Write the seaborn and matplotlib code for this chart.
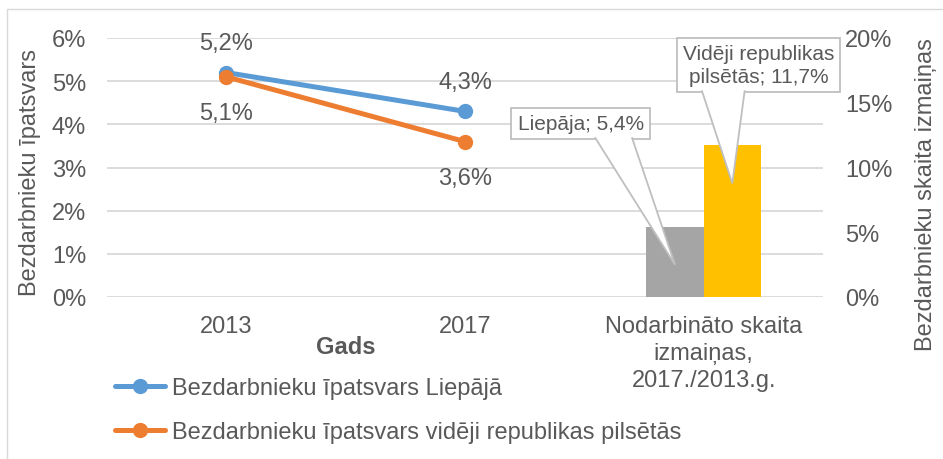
import matplotlib
matplotlib.use('Agg')
import matplotlib.pyplot as plt
from matplotlib.lines import Line2D
from matplotlib.patches import Polygon, Rectangle
from matplotlib.ticker import FuncFormatter
import pandas as pd
import seaborn as sns

# data
categories = ['2013', '2017', 'Nodarbināto skaita\nizmaiņas,\n2017./2013.g.']
years = ['2013', '2017']
share_liepaja = [5.2, 4.3]
share_cities = [5.1, 3.6]
line_labels = ['Bezdarbnieku īpatsvars Liepājā',
               'Bezdarbnieku īpatsvars vidēji republikas pilsētās']
bar_labels = ['Liepāja', 'Vidēji republikas pilsētās']
bar_texts = ['Liepāja; 5,4%', 'Vidēji republikas\npilsētās; 11,7%']
bar_values = [5.4, 11.7]

BLUE = '#5B9BD5'
ORANGE = '#ED7D31'
GREY = '#A5A5A5'
GOLD = '#FFC000'
TXT = '#595959'
GRID = '#D9D9D9'

sns.set_style('white')
plt.rcParams['font.family'] = ['Liberation Sans', 'DejaVu Sans']
plt.rcParams['font.size'] = 17
plt.rcParams['text.color'] = TXT


def pct(v):
    return f'{v:.1f}'.replace('.', ',') + '%'


fig = plt.figure(figsize=(9.43, 4.6), dpi=100)
ax = fig.add_axes([107 / 943, 1 - 298 / 460, 716 / 943, 259 / 460])
ax2 = ax.twinx()

# lines (left axis)
pos = [categories.index(y) for y in years]
lines_df = pd.DataFrame({
    'pos': pos * 2,
    'value': share_liepaja + share_cities,
    'series': [line_labels[0]] * 2 + [line_labels[1]] * 2,
})
sns.lineplot(data=lines_df, x='pos', y='value', hue='series', palette=[BLUE, ORANGE],
             marker='o', markersize=11, markeredgewidth=0, linewidth=3.6,
             ax=ax, legend=False)

for i, x in enumerate(pos):
    ax.annotate(pct(share_liepaja[i]), (x, share_liepaja[i]), xytext=(0, 21),
                textcoords='offset points', ha='center', va='center', fontsize=17, color=TXT)
    ax.annotate(pct(share_cities[i]), (x, share_cities[i]), xytext=(0, -26),
                textcoords='offset points', ha='center', va='center', fontsize=17, color=TXT)

# bars (right axis)
bars_df = pd.DataFrame({'cat': [categories[2]] * 2, 'value': bar_values, 'series': bar_labels})
sns.barplot(data=bars_df, x='cat', y='value', hue='series', order=categories,
            palette=[GREY, GOLD], width=0.48, saturation=1, linewidth=0,
            ax=ax2, legend=False)

# axes styling
ax.set_xlim(-0.5, 2.5)
ax.set_ylim(0, 6)
ax2.set_ylim(0, 20)
ax.set_yticks(range(0, 7))
ax2.set_yticks([0, 5, 10, 15, 20])
ax.yaxis.set_major_formatter(FuncFormatter(lambda v, p: f'{v:.0f}%'))
ax2.yaxis.set_major_formatter(FuncFormatter(lambda v, p: f'{v:.0f}%'))
ax.set_xticks(range(len(categories)), labels=categories)
for lbl in ax.get_xticklabels():
    lbl.set_linespacing(1.3)
ax.set_xlabel('')
ax.set_ylabel('')
ax2.set_ylabel('')
ax.grid(axis='y', color=GRID, lw=1.3)
ax.grid(axis='x', visible=False)
ax.set_axisbelow(True)
for a in (ax, ax2):
    for s in a.spines.values():
        s.set_visible(False)
ax.tick_params(axis='y', length=0, pad=15, labelsize=17, labelcolor=TXT)
ax.tick_params(axis='x', length=0, pad=13, labelsize=17, labelcolor=TXT)
ax2.tick_params(axis='y', length=0, pad=16, labelsize=17, labelcolor=TXT)

ax.text((346 - 107) / 716, (298 - 347) / 259, 'Gads', transform=ax.transAxes,
        ha='center', va='center', fontsize=17, fontweight='bold', color=TXT)
fig.text(30 / 943, 1 - 172 / 460, 'Bezdarbnieku īpatsvars', rotation=90,
         ha='center', va='center', fontsize=17, color=TXT)
fig.text(926 / 943, 1 - 195 / 460, 'Bezdarbnieku skaita izmaiņas', rotation=90,
         ha='center', va='center', fontsize=17, color=TXT)

# callouts
box_pos = [(1.485, 13.4), (2.23, 17.9)]
base_x = [(1.544, 1.699), (1.992, 2.172)]
tip_frac = [0.46, 0.75]
texts = []
for t, (bx, by) in zip(bar_texts, box_pos):
    texts.append(ax2.text(bx, by, t, ha='center', va='center', fontsize=15, color=TXT,
                          linespacing=1.25, zorder=6,
                          bbox=dict(boxstyle='square,pad=0.3', fc='white', ec='#BFBFBF', lw=1.3)))
fig.canvas.draw()
renderer = fig.canvas.get_renderer()
for i, t in enumerate(texts):
    ext = t.get_bbox_patch().get_window_extent(renderer)
    yb = ax2.transData.inverted().transform((0, ext.y0 + 2))[1]
    p = ax2.patches[i]
    tip = (p.get_x() + p.get_width() / 2, p.get_height() * tip_frac[i])
    ax2.add_patch(Polygon([(base_x[i][0], yb), tip, (base_x[i][1], yb)], closed=False,
                          fc='white', ec='#BFBFBF', lw=1.3, zorder=7))

# legend
handles = [Line2D([], [], color=c, lw=3.6, marker='o', markersize=11, markeredgewidth=0)
           for c in (BLUE, ORANGE)]
fig.legend(handles, line_labels, loc='upper left', bbox_to_anchor=(115 / 943, 1 - 378 / 460),
           frameon=False, borderpad=0, borderaxespad=0, handlelength=2.1,
           handletextpad=0.3, labelspacing=0.95, fontsize=17, labelcolor=TXT)

fig.patches.append(Rectangle((7 / 943, -0.05), 1.0, 1 - 10 / 460 + 0.05, transform=fig.transFigure,
                             fill=False, ec='#D9D9D9', lw=1))

fig.savefig('out.png', dpi=100)
